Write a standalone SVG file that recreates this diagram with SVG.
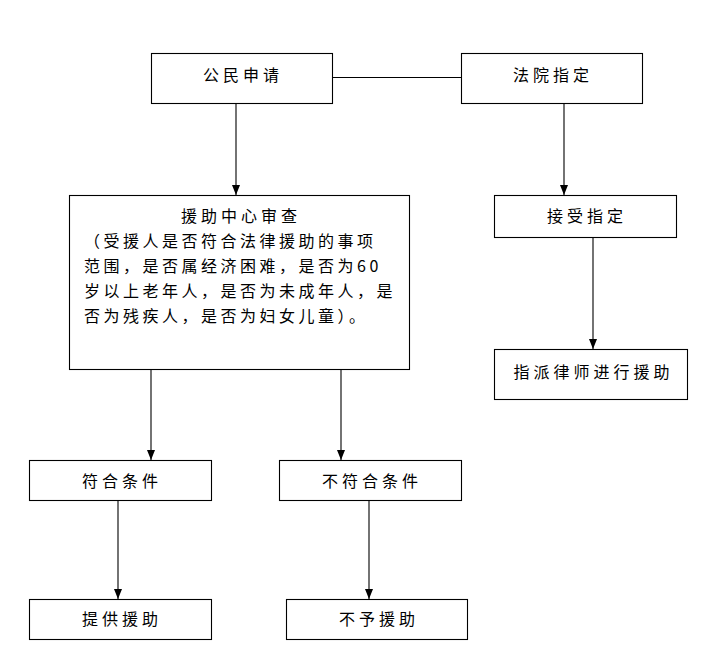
<svg xmlns="http://www.w3.org/2000/svg" width="715" height="666" viewBox="0 0 715 666">
<defs>
<marker id="arr" markerUnits="userSpaceOnUse" viewBox="0 0 10 8" refX="10" refY="4" markerWidth="10" markerHeight="8" orient="auto">
<path d="M0,0 L10,4 L0,8 z" fill="#000"/>
</marker>
<style>
.box{fill:#fff;stroke:#000;stroke-width:1.1}
.t{font-family:"Noto Sans CJK SC","Noto Sans CJK JP",sans-serif;font-size:16px;fill:#000;letter-spacing:4px;text-anchor:middle}
.b{font-family:"Noto Sans CJK SC","Noto Sans CJK JP",sans-serif;font-size:16px;fill:#000;letter-spacing:3.5px}
.c{fill:none;stroke:#000;stroke-width:1.1}
</style>
</defs>
<rect width="715" height="666" fill="#fff"/>
<g id="connectors">
<line class="c" x1="332" y1="77.5" x2="461" y2="77.5"/>
<line class="c" x1="236" y1="103" x2="236" y2="195" marker-end="url(#arr)"/>
<line class="c" x1="564" y1="103" x2="564" y2="195" marker-end="url(#arr)"/>
<line class="c" x1="593" y1="237" x2="593" y2="349" marker-end="url(#arr)"/>
<line class="c" x1="151" y1="369" x2="151" y2="460" marker-end="url(#arr)"/>
<line class="c" x1="341" y1="369" x2="341" y2="460" marker-end="url(#arr)"/>
<line class="c" x1="118" y1="500" x2="118" y2="599" marker-end="url(#arr)"/>
<line class="c" x1="369" y1="500" x2="369" y2="599" marker-end="url(#arr)"/>
</g>
<g id="n-apply">
<rect class="box" x="151.5" y="53.5" width="181" height="50"/>
<text class="t" x="243" y="80.5">公民申请</text>
</g>
<g id="n-court">
<rect class="box" x="461.5" y="53.5" width="181" height="50"/>
<text class="t" x="553" y="80.5">法院指定</text>
</g>
<g id="n-review">
<rect class="box" x="69.5" y="195.5" width="340" height="174"/>
<text class="t" x="241" y="222">援助中心审查</text>
<text class="b" x="84" y="247" letter-spacing="4">（受援人是否符合法律援助的事项</text>
<text class="b" x="84" y="272" letter-spacing="3.8">范围，是否属经济困难，是否为60</text>
<text class="b" x="84" y="297">岁以上老年人，是否为未成年人，是</text>
<text class="b" x="84" y="322">否为残疾人，是否为妇女儿童）。</text>
</g>
<g id="n-accept">
<rect class="box" x="494.5" y="195.5" width="182" height="42"/>
<text class="t" x="587" y="221.5">接受指定</text>
</g>
<g id="n-lawyer">
<rect class="box" x="494.5" y="349.5" width="193" height="50"/>
<text class="t" x="593.5" y="378">指派律师进行援助</text>
</g>
<g id="n-ok">
<rect class="box" x="29.5" y="460.5" width="182" height="40"/>
<text class="t" x="122" y="486.5">符合条件</text>
</g>
<g id="n-notok">
<rect class="box" x="279.5" y="460.5" width="182" height="40"/>
<text class="t" x="372" y="486.5">不符合条件</text>
</g>
<g id="n-provide">
<rect class="box" x="29.5" y="599.5" width="182" height="40"/>
<text class="t" x="122" y="624.5">提供援助</text>
</g>
<g id="n-deny">
<rect class="box" x="286.5" y="599.5" width="181" height="40"/>
<text class="t" x="379" y="624.5">不予援助</text>
</g>
</svg>
